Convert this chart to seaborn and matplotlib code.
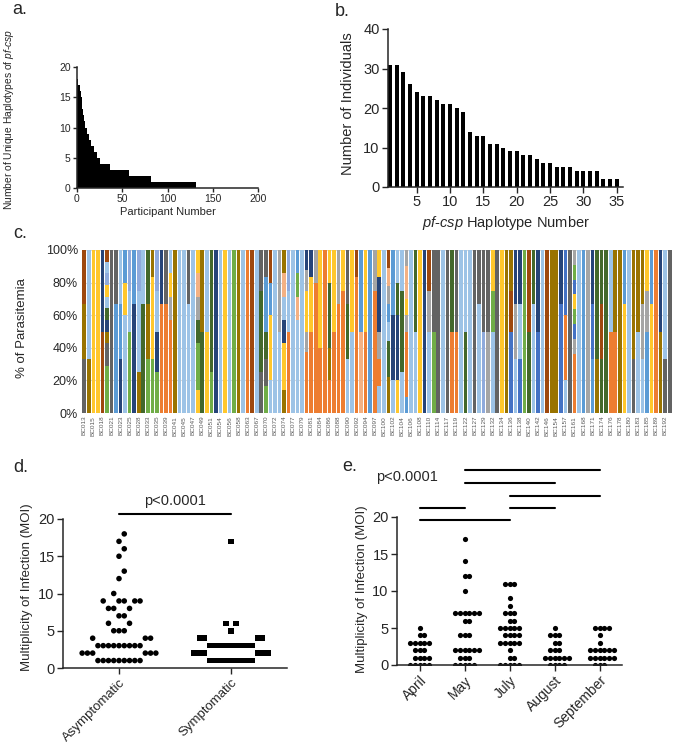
import numpy as np
import pandas as pd
import matplotlib
matplotlib.use("Agg")
import matplotlib.pyplot as plt
import seaborn as sns

# ---- panel a: unique haplotypes per participant (sorted) ----
a_levels = [18, 17, 16, 15, 14, 13, 12, 11, 10, 9, 8, 7, 6, 5, 4, 3, 2, 1]
a_counts = [1, 2, 1, 1, 1, 1, 1, 1, 2, 2, 3, 3, 3, 3, 11, 21, 25, 50]

# ---- panel b: individuals per haplotype ----
b_hap = list(range(1, 36))
b_n = [31, 31, 29, 26, 24, 23, 23, 22, 21, 21, 20, 19, 14, 13, 13, 11, 11, 10,
       9, 9, 8, 8, 7, 6, 6, 5, 5, 5, 4, 4, 4, 4, 2, 2, 2]

# ---- panel c: haplotype make-up of each sample (colour codes, bottom -> top, equal shares) ----
c_labels = ["BC013", "BC015", "BC018", "BC021", "BC023", "BC025", "BC028", "BC033", "BC035",
            "BC039", "BC041", "BC045", "BC047", "BC049", "BC051", "BC054", "BC056", "BC058",
            "BC063", "BC067", "BC070", "BC072", "BC074", "BC077", "BC079", "BC081", "BC084",
            "BC086", "BC088", "BC090", "BC092", "BC094", "BC097", "BC100", "BC102", "BC104",
            "BC106", "BC108", "BC110", "BC114", "BC117", "BC119", "BC122", "BC127", "BC129",
            "BC132", "BC134", "BC136", "BC138", "BC140", "BC142", "BC146", "BC154", "BC157",
            "BC161", "BC168", "BC171", "BC174", "BC176", "BC178", "BC180", "BC183", "BC185",
            "BC189", "BC192"]
c_mix = ["dvb", "vll", "y", "y", "bn", "ggggddvnGlyplb", "d", "mmd", "nml", "lllym",
         "gglp", "nnm", "vllp", "GGl", "gvG", "ggyyyv", "gnlp", "oon", "ood", "ooooayl",
         "v", "l", "l", "lld", "l", "yggGaOy", "GGvv", "yyll", "gGGG", "n",
         "l", "y", "l", "g", "v", "l", "o", "b", "l", "dGGd",
         "gdGmmd", "lyymb", "l", "la", "vyynlOv", "oolp", "l", "llllOgm", "l", "oooayyan",
         "oooyyn", "ooooa", "ooyyy", "o", "ovGGy", "ooyy", "ooa", "oooy", "lGd", "ly",
         "ooooob", "Om", "ooyy", "m", "oooa",
         "loanny", "l", "vvGGlmaOb", "lnnmm", "ynnGl",
         "lGGl", "mooooayOOa", "l", "lG", "y", "n", "llab", "gd", "d", "l",
         "d", "oG", "od", "l", "Gl", "l", "d", "lld", "pd", "ad",
         "llgy", "d", "y", "v", "BBbv", "lan", "Bln", "g", "Gb", "llG",
         "Bn", "l", "b", "v", "v", "BBn", "looBB", "dd", "ooooaBgyBga", "l",
         "m", "a", "mBn", "vGG", "GbG", "G", "ol", "ov", "vv", "yym",
         "l", "dvv", "lv", "lav", "mmay", "yym", "o", "vn", "dll", "d"]
c_colors = {"o": "#ED7D31", "O": "#F4B183", "b": "#9E480E", "y": "#FFC72C",
            "v": "#997300", "g": "#70AD47", "G": "#43682B", "l": "#9DC3E6",
            "m": "#5B9BD5", "B": "#4472C4", "n": "#264478", "a": "#A5A5A5",
            "d": "#636363", "p": "#8FAADC"}

# ---- panel d: MOI by clinical status ----
d_groups = ["Asymptomatic", "Symptomatic"]
d_asym_val = [1, 2, 3, 4, 5, 6, 7, 8, 9, 10, 12, 13, 15, 16, 17, 18]
d_asym_cnt = [9, 6, 9, 3, 3, 2, 2, 3, 5, 1, 1, 1, 1, 1, 1, 1]
d_sym_val = [1, 2, 3, 4, 5, 6, 17]
d_sym_cnt = [9, 6, 9, 4, 1, 2, 1]

# ---- panel e: MOI by month ----
e_months = ["April", "May", "July", "August", "September"]
e_apr_val, e_apr_cnt = [0, 1, 2, 3, 4, 5], [5, 4, 3, 5, 2, 1]
e_may_val, e_may_cnt = [0, 1, 2, 4, 6, 7, 10, 12, 14, 17], [5, 3, 6, 3, 2, 6, 1, 2, 1, 1]
e_jul_val, e_jul_cnt = [0, 1, 2, 3, 4, 5, 6, 7, 8, 9, 11], [5, 2, 1, 5, 4, 5, 2, 3, 1, 1, 3]
e_aug_val, e_aug_cnt = [0, 1, 2, 3, 4, 5], [4, 6, 3, 2, 3, 1]
e_sep_val, e_sep_cnt = [0, 1, 2, 3, 4, 5], [3, 6, 6, 1, 1, 4]
e_pairs = [(0, 2), (0, 1), (2, 3), (2, 4), (1, 3), (1, 4)]
e_pair_y = [19.55, 21.2, 21.2, 22.9, 24.6, 26.3]


def swarm(values, step, ygap=1.5):
    # simple beeswarm: points in a row, pushed sideways when close to a neighbour row
    values = np.asarray(values, dtype=float)
    out = np.zeros(len(values))
    placed = []
    for i in np.argsort(values, kind="stable"):
        v = values[i]
        k = 0
        while True:
            off = ((k + 1) // 2) * step * (1 if k % 2 else -1)
            if not any(abs(px - off) < step * 0.99 and abs(py - v) < ygap for px, py in placed):
                break
            k += 1
        placed.append((off, v))
        out[i] = off
    return out


sns.set_theme(style="ticks")
plt.rcParams["font.family"] = ["Liberation Sans", "DejaVu Sans"]
plt.rcParams["mathtext.fontset"] = "custom"
plt.rcParams["mathtext.rm"] = "Liberation Sans"
plt.rcParams["mathtext.it"] = "Liberation Sans:italic"
plt.rcParams["axes.linewidth"] = 1.1
plt.rcParams["xtick.major.width"] = 1.0
plt.rcParams["ytick.major.width"] = 1.0

W, H = 685, 748
fig = plt.figure(figsize=(W / 100, H / 100), dpi=100)


def box(l, r, t, b):
    return [l / W, 1 - b / H, (r - l) / W, (b - t) / H]


# panel a
ax = fig.add_axes(box(77, 258, 67, 188))
a_moi = np.repeat(a_levels, a_counts)
a_df = pd.DataFrame({"participant": np.arange(len(a_moi)) + 0.5, "moi": a_moi})
sns.histplot(data=a_df, x="participant", weights="moi", binwidth=1, binrange=(0, len(a_moi)),
             element="step", fill=True, color="black", alpha=1, linewidth=0, ax=ax)
ax.set_xlim(0, 200)
ax.set_ylim(0, 20)
ax.set_xticks([0, 50, 100, 150, 200])
ax.set_yticks([0, 5, 10, 15, 20])
ax.tick_params(labelsize=7.5, length=3, pad=1.5)
ax.set_xlabel("Participant Number", fontsize=8, labelpad=2)
ax.set_ylabel(r"Number of Unique Haplotypes of $\mathit{pf}$-$\mathit{csp}$", fontsize=7.4)
ax.yaxis.set_label_coords(-0.335, 0.57)
sns.despine(ax=ax)

# panel b
ax = fig.add_axes(box(388, 623, 29, 187))
sns.barplot(x=b_hap, y=b_n, color="black", width=0.6, native_scale=True, ax=ax,
            saturation=1, edgecolor="none")
ax.set_xlim(0.7, 35.95)
ax.set_ylim(0, 40)
ax.set_xticks(range(5, 36, 5))
ax.set_yticks(range(0, 41, 10))
ax.tick_params(labelsize=10.5, length=4, pad=2)
ax.set_xlabel(r"$\mathit{pf}$-$\mathit{csp}$ Haplotype Number", fontsize=10.5, labelpad=3)
ax.set_ylabel("Number of Individuals", fontsize=10.5)
ax.yaxis.set_label_coords(-0.14, 0.525)
sns.despine(ax=ax)

# panel c
ax = fig.add_axes(box(82, 672, 250, 413))
for i, mix in enumerate(c_mix):
    share = 1.0 / len(mix)
    for j, code in enumerate(mix):
        ax.bar(i, share, bottom=j * share, width=0.8, color=c_colors[code], linewidth=0, zorder=2)
ax.set_xlim(-0.5, len(c_mix) - 0.5)
ax.set_ylim(0, 1)
ax.set_yticks(np.arange(0, 1.01, 0.2))
ax.set_yticklabels([f"{int(round(v * 100))}%" for v in np.arange(0, 1.01, 0.2)], fontsize=9)
ax.set_xticks(np.arange(0, len(c_mix), 2))
ax.set_xticklabels(c_labels, rotation=90, fontsize=4.6, color="#595959")
ax.tick_params(length=0, pad=3)
ax.tick_params(axis="x", pad=2)
ax.grid(axis="y", color="#D9D9D9", linewidth=0.8, zorder=0)
for s in ax.spines.values():
    s.set_visible(False)
ax.set_ylabel("% of Parasitemia", fontsize=9.5)
ax.yaxis.set_label_coords(-0.092, 0.52)

# panel d
ax = fig.add_axes(box(63, 287, 519, 668))
d_rows = []
for gi, (vals, cnts) in enumerate([(d_asym_val, d_asym_cnt), (d_sym_val, d_sym_cnt)]):
    v = np.repeat(vals, cnts)
    for x, y in zip(gi + swarm(v, 0.047), v):
        d_rows.append({"group": d_groups[gi], "x": x, "moi": y})
d_df = pd.DataFrame(d_rows)
sns.scatterplot(data=d_df, x="x", y="moi", style="group",
                markers={"Asymptomatic": "o", "Symptomatic": "s"},
                color="black", s=16, linewidth=0, legend=False, ax=ax)
ax.set_xlim(-0.5, 1.5)
ax.set_ylim(0, 20)
ax.set_yticks([0, 5, 10, 15, 20])
ax.set_xticks([0, 1])
ax.set_xticklabels(d_groups, rotation=45, ha="right", rotation_mode="anchor", fontsize=9.5)
ax.tick_params(axis="y", labelsize=10.5)
ax.tick_params(length=4, pad=2)
ax.set_xlabel("")
ax.set_ylabel("Multiplicity of Infection (MOI)", fontsize=9.5)
ax.yaxis.set_label_coords(-0.134, 0.54)
ax.plot([0, 1], [20.67, 20.67], color="black", lw=1.5, clip_on=False)
ax.text(0.5, 21.5, "p<0.0001", ha="center", va="bottom", fontsize=10.5)
sns.despine(ax=ax)

# panel e
ax = fig.add_axes(box(397, 622, 517, 665))
e_rows = []
e_data = [(e_apr_val, e_apr_cnt), (e_may_val, e_may_cnt), (e_jul_val, e_jul_cnt),
          (e_aug_val, e_aug_cnt), (e_sep_val, e_sep_cnt)]
for mi, (vals, cnts) in enumerate(e_data):
    v = np.repeat(vals, cnts)
    for x, y in zip(mi + swarm(v, 0.105, ygap=0.9), v):
        e_rows.append({"month": e_months[mi], "x": x, "moi": y})
e_df = pd.DataFrame(e_rows)
sns.scatterplot(data=e_df, x="x", y="moi", color="black", s=14, linewidth=0,
                legend=False, ax=ax)
ax.set_xlim(-0.5, 4.5)
ax.set_ylim(0, 20)
ax.set_yticks([0, 5, 10, 15, 20])
ax.set_xticks(range(5))
ax.set_xticklabels(e_months, rotation=45, ha="right", rotation_mode="anchor", fontsize=10)
ax.tick_params(axis="y", labelsize=10.5)
ax.tick_params(length=4, pad=2)
ax.set_xlabel("")
ax.set_ylabel("Multiplicity of Infection (MOI)", fontsize=9.5)
ax.yaxis.set_label_coords(-0.129, 0.51)
for (p0, p1), yy in zip(e_pairs, e_pair_y):
    ax.plot([p0, p1], [yy, yy], color="black", lw=1.5, clip_on=False)
ax.text(-0.96, 24.4, "p<0.0001", ha="left", va="bottom", fontsize=10.5)
sns.despine(ax=ax)

# panel letters
for lab, x, y in [("a.", 12, 10), ("b.", 335, 11), ("c.", 13, 233), ("d.", 13, 468), ("e.", 342, 466)]:
    fig.text(x / W, 1 - y / H, lab, fontsize=13, ha="left", va="center")

fig.savefig("out.png", dpi=100)
